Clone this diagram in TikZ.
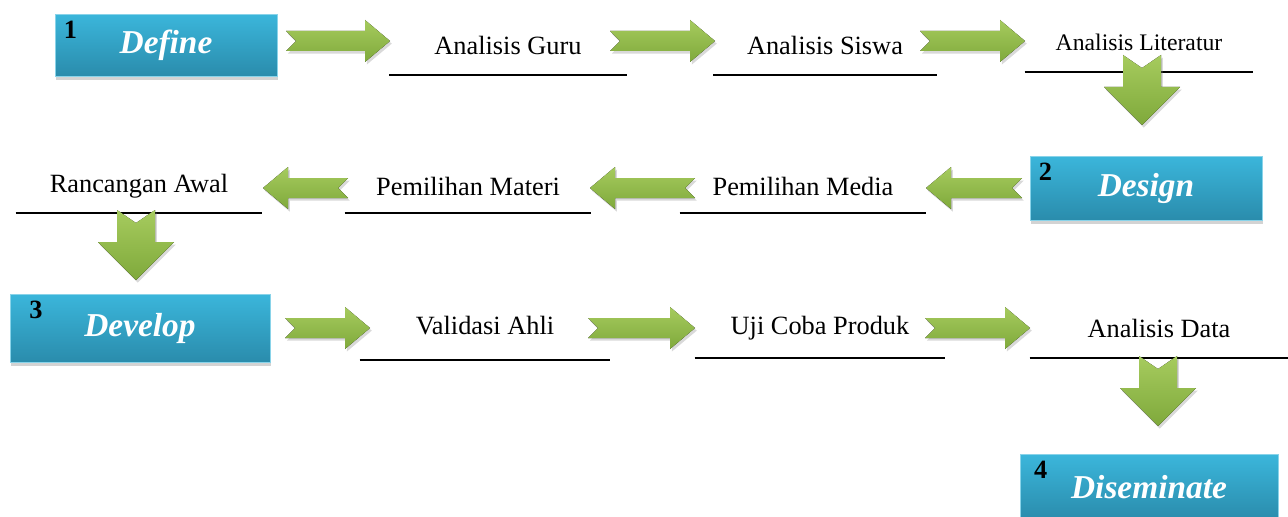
\documentclass[tikz,border=0pt]{standalone}
\usepackage{fontspec}
\setmainfont{Liberation Serif}
\usepackage{tikz}
\usetikzlibrary{shadows, positioning}

\definecolor{boxtop}{HTML}{3BB6DB}
\definecolor{boxbot}{HTML}{2A8CAC}
\definecolor{arrtop}{HTML}{A6CB5E}
\definecolor{arrbot}{HTML}{7FA93B}

\tikzset{
  phase/.style={rectangle, inner sep=0pt, top color=boxtop, bottom color=boxbot,
    draw=boxtop!60!white, line width=0.4pt,
    drop shadow={opacity=0.35, shadow xshift=0.8pt, shadow yshift=-2pt},
    text=white, font=\fontsize{19}{22}\selectfont\bfseries\itshape},
  phasenum/.style={anchor=north west, inner sep=0pt, font=\fontsize{15}{17}\selectfont\bfseries},
  task/.style={inner sep=0pt, font=\fontsize{15}{18}\selectfont},
  rule/.style={line width=1.2pt},
  rarrow/.pic={
    \fill[top color=arrtop, bottom color=arrbot,
      drop shadow={opacity=0.3, shadow xshift=1pt, shadow yshift=-1.5pt}]
      (0,-10) -- (#1-25,-10) -- (#1-25,-21) -- (#1,0) -- (#1-25,21) -- (#1-25,10) -- (0,10) -- (10,0) -- cycle;
  },
  darrow/.pic={
    \fill[top color=arrtop, bottom color=arrbot,
      drop shadow={opacity=0.3, shadow xshift=1pt, shadow yshift=-1.5pt}]
      (0,-19) -- (32,-19) -- (32,-38) -- (70,0) -- (32,38) -- (32,19) -- (0,19) -- (13,0) -- cycle;
  }
}

\begin{document}
\begin{tikzpicture}[x=0.02cm, y=-0.02cm]
  \useasboundingbox (0,0) rectangle (1288,517);

  % phases
  \node[phase, minimum width=4.44cm, minimum height=1.24cm] (define) at (166,45) {Define};
  \node[phase, minimum width=4.64cm, minimum height=1.28cm] (design) at (1146,188) {Design};
  \node[phase, minimum width=5.2cm, minimum height=1.36cm] (develop) at (140,328) {Develop};
  \node[phase, minimum width=5.16cm, minimum height=1.3cm] (diseminate) at (1149,487) {Diseminate};

  \node[phasenum] (n1) at ([xshift=5pt, yshift=-4pt]define.north west) {1};
  \node[phasenum] (n2) at ([xshift=5pt, yshift=-4pt]design.north west) {2};
  \node[phasenum] (n3) at ([xshift=11pt, yshift=-4pt]develop.north west) {3};
  \node[phasenum] (n4) at ([xshift=8pt, yshift=-4pt]diseminate.north west) {4};

  % steps
  \node[task, minimum width=4.74cm, minimum height=1.2cm] (guru) at (508,45) {Analisis Guru};
  \node[task, minimum width=4.46cm, minimum height=1.2cm] (siswa) at (825,45) {Analisis Siswa};
  \node[task, minimum width=4.56cm, minimum height=1.2cm, font=\fontsize{13.5}{16}\selectfont] (literatur) at (1139,42) {Analisis Literatur};
  \node[task, minimum width=4.92cm, minimum height=1.08cm] (rancangan) at (139,186) {Rancangan Awal};
  \node[task, minimum width=4.92cm, minimum height=1.08cm] (materi) at (468,186) {Pemilihan Materi};
  \node[task, minimum width=4.92cm, minimum height=1.08cm] (media) at (803,186) {Pemilihan Media};
  \node[task, minimum width=5cm, minimum height=1.36cm] (validasi) at (485,326) {Validasi Ahli};
  \node[task, minimum width=5cm, minimum height=1.2cm] (ujicoba) at (820,328) {Uji Coba Produk};
  \node[task, minimum width=5.16cm, minimum height=1.2cm] (analisisdata) at (1159,328) {Analisis Data};

  \foreach \n in {guru, siswa, literatur, rancangan, materi, media, validasi, ujicoba, analisisdata}
    \draw[rule] (\n.south west) -- (\n.south east);

  % arrows
  \pic at (286,41) {rarrow=104};
  \pic at (610,41) {rarrow=105};
  \pic at (920,41) {rarrow=105};
  \pic[rotate=-90] at (1142,55) {darrow};
  \pic[rotate=180] at (1022,188) {rarrow=96};
  \pic[rotate=180] at (695,188) {rarrow=105};
  \pic[rotate=180] at (348,188) {rarrow=85};
  \pic[rotate=-90] at (136,210) {darrow};
  \pic at (285,328) {rarrow=85};
  \pic at (588,328) {rarrow=107};
  \pic at (925,328) {rarrow=105};
  \pic[rotate=-90] at (1158,356) {darrow};
\end{tikzpicture}
\end{document}
